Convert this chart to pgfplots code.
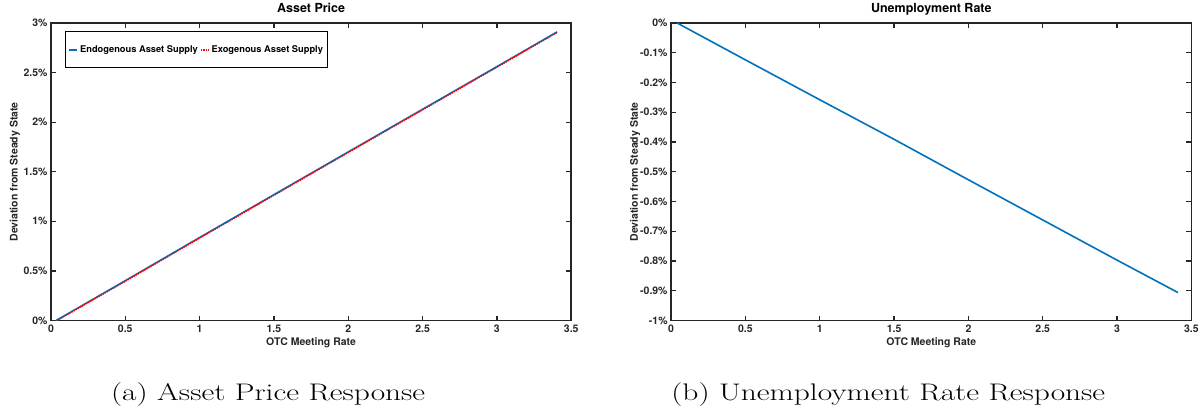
\documentclass[border=0pt]{standalone}
\usepackage{fontspec}
\newfontfamily\helv{TeX Gyre Heros}
\usepackage{pgfplots}
\pgfplotsset{compat=1.18}
\definecolor{mblue}{rgb}{0,0.447,0.741}
\definecolor{axgray}{rgb}{0.15,0.15,0.15}
\pgfplotsset{
  mystyle/.style={
    scale only axis, width=521pt, height=298pt,
    axis line style={axgray, line width=1.6pt},
    tick style={axgray, line width=1.2pt},
    major tick length=5pt,
    tick align=inside,
    xmin=0, xmax=3.5,
    xtick={0,0.5,1,1.5,2,2.5,3,3.5},
    xticklabels={0,0.5,1,1.5,2,2.5,3,3.5},
    tick label style={font=\helv\bfseries\fontsize{10.5}{12}\selectfont, text=axgray},
    xticklabel style={yshift=-1pt},
    label style={font=\helv\bfseries\fontsize{10.5}{12}\selectfont, text=axgray},
    xlabel={OTC Meeting Rate},
    ylabel={Deviation from Steady State},
    xlabel style={at={(axis description cs:0.5,0)}, anchor=north, yshift=-14pt},
    ylabel style={at={(axis description cs:-0.0691,0.5)}, anchor=center},
    title style={font=\helv\bfseries\fontsize{12.5}{14}\selectfont, text=black, at={(axis description cs:0.5,1)}, anchor=base, yshift=4pt},
  }
}
\begin{document}
\begin{tikzpicture}
\path (0,0) rectangle (1202pt,406pt);
\begin{axis}[mystyle, at={(51pt,85pt)}, anchor=south west,
  title={Asset Price},
  ymin=0, ymax=3,
  ytick={0,0.5,1,1.5,2,2.5,3},
  yticklabels={0\%,0.5\%,1\%,1.5\%,2\%,2.5\%,3\%},
  legend style={at={(axis description cs:0.0269,0.973)}, anchor=north west,
    legend columns=2, draw=black, line width=0.9pt,
    font=\helv\bfseries\fontsize{9.3}{11}\selectfont,
    inner xsep=3pt, inner ysep=12pt},
  legend image code/.code={\draw[#1, line width=1.8pt] (0pt,0pt) -- (8pt,0pt);},
]
\addplot[mblue, line width=1.6pt] coordinates {
(0.034,0) (0.5,0.402) (1,0.837) (1.5,1.269) (2,1.700) (2.5,2.130) (3,2.560) (3.405,2.910)};
\addlegendentry{Endogenous Asset Supply}
\addplot[red, densely dotted, line width=1.4pt] coordinates {
(0.040,0) (0.5,0.396) (1,0.831) (1.5,1.263) (2,1.694) (2.5,2.124) (3,2.554) (3.405,2.904)};
\addlegendentry{Exogenous Asset Supply}
\end{axis}
\begin{axis}[mystyle, at={(672pt,85pt)}, anchor=south west,
  title={Unemployment Rate},
  ymin=-1, ymax=0,
  ytick={-1,-0.9,-0.8,-0.7,-0.6,-0.5,-0.4,-0.3,-0.2,-0.1,0},
  yticklabels={-1\%,-0.9\%,-0.8\%,-0.7\%,-0.6\%,-0.5\%,-0.4\%,-0.3\%,-0.2\%,-0.1\%,0\%},
]
\addplot[mblue, line width=1.6pt] coordinates {
(0.04,0) (0.5,-0.124) (1,-0.258) (1.5,-0.391) (2,-0.527) (2.5,-0.662) (3,-0.797) (3.41,-0.906)};
\end{axis}
\node[anchor=base west, inner sep=0pt, font=\fontsize{24}{29}\selectfont, xscale=1.31] at (111pt,5pt) {(a) Asset Price Response};
\node[anchor=base west, inner sep=0pt, font=\fontsize{24}{29}\selectfont, xscale=1.31] at (672pt,5pt) {(b) Unemployment Rate Response};
\end{tikzpicture}
\end{document}
